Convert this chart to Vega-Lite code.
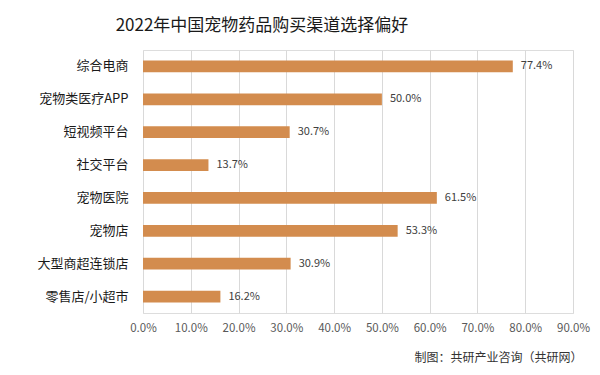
{
  "$schema": "https://vega.github.io/schema/vega-lite/v6.json",
  "width": 430,
  "height": 263,
  "autosize": {"type": "none"},
  "padding": {"left": 143, "top": 50, "right": 27, "bottom": 62},
  "background": "white",
  "title": {
    "text": "2022年中国宠物药品购买渠道选择偏好",
    "font": "Noto Sans CJK SC",
    "fontSize": 17,
    "fontWeight": "normal",
    "color": "#1a1a1a",
    "anchor": "middle",
    "dx": -96,
    "offset": 15
  },
  "data": {
    "values": [
      {"channel": "综合电商", "value": 0.774},
      {"channel": "宠物类医疗APP", "value": 0.500},
      {"channel": "短视频平台", "value": 0.307},
      {"channel": "社交平台", "value": 0.137},
      {"channel": "宠物医院", "value": 0.615},
      {"channel": "宠物店", "value": 0.533},
      {"channel": "大型商超连锁店", "value": 0.309},
      {"channel": "零售店/小超市", "value": 0.162}
    ]
  },
  "encoding": {
    "y": {
      "field": "channel",
      "type": "nominal",
      "sort": null,
      "scale": {"paddingInner": 0.645, "paddingOuter": 0.3225},
      "axis": {
        "title": null,
        "domain": false,
        "ticks": false,
        "labelFont": "Noto Sans CJK SC",
        "labelFontSize": 13,
        "labelColor": "#1a1a1a",
        "labelPadding": 15
      }
    },
    "x": {
      "field": "value",
      "type": "quantitative",
      "scale": {"domain": [0, 0.9]},
      "axis": {
        "values": [0, 0.1, 0.2, 0.3, 0.4, 0.5, 0.6, 0.7, 0.8, 0.9],
        "format": ".1%",
        "domain": false,
        "ticks": false,
        "grid": true,
        "gridColor": "#d9d9d9",
        "labelFlush": false,
        "labelOverlap": false,
        "labelFont": "Noto Sans CJK SC",
        "labelFontSize": 11.5,
        "labelColor": "#595959",
        "labelPadding": 9,
        "title": "制图：共研产业咨询（共研网）",
        "titleFont": "Noto Sans CJK SC",
        "titleFontSize": 12,
        "titleFontWeight": "normal",
        "titleColor": "#333333",
        "titleAlign": "right",
        "titleBaseline": "middle",
        "titleX": 439,
        "titleY": 44
      }
    }
  },
  "layer": [
    {"mark": {"type": "bar", "color": "#D38C4E"}},
    {
      "mark": {
        "type": "text",
        "align": "left",
        "baseline": "middle",
        "dx": 8,
        "font": "Noto Sans CJK SC",
        "fontSize": 11,
        "color": "#404040"
      },
      "encoding": {"text": {"field": "value", "type": "quantitative", "format": ".1%"}}
    }
  ]
}
